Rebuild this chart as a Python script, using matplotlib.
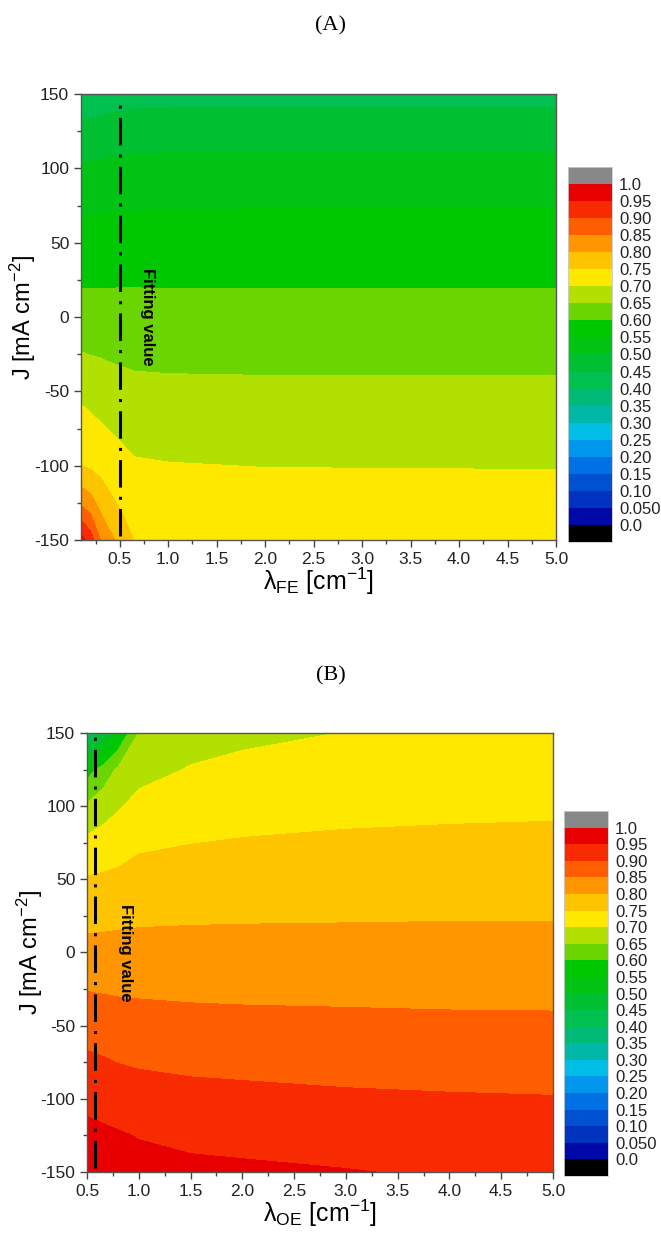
import numpy as np
import matplotlib
matplotlib.use('Agg')
import matplotlib.pyplot as plt
from matplotlib.colors import ListedColormap, BoundaryNorm

plt.rcParams['font.family'] = ['Liberation Sans', 'DejaVu Sans']
plt.rcParams['mathtext.fontset'] = 'custom'
plt.rcParams['mathtext.rm'] = 'Liberation Sans'
plt.rcParams['mathtext.it'] = 'Liberation Sans:italic'
plt.rcParams['axes.unicode_minus'] = False

# contour levels and colours (Origin-like rainbow, 0.0 -> 1.0 in 0.05 steps)
levels = [0.0, 0.05, 0.10, 0.15, 0.20, 0.25, 0.30, 0.35, 0.40, 0.45, 0.50,
          0.55, 0.60, 0.65, 0.70, 0.75, 0.80, 0.85, 0.90, 0.95, 1.0]
level_colors = ['#0008a8', '#0033c0', '#0050d2', '#0070e5', '#0096eb',
                '#00bee6', '#00b8a5', '#00ba78', '#00c050', '#00c031',
                '#00c314', '#00c800', '#6ad500', '#b2e000', '#ffe800',
                '#ffc400', '#ff9600', '#ff5e00', '#f82a00', '#e80000']
cbar_labels = ['0.0', '0.050', '0.10', '0.15', '0.20', '0.25', '0.30', '0.35',
               '0.40', '0.45', '0.50', '0.55', '0.60', '0.65', '0.70', '0.75',
               '0.80', '0.85', '0.90', '0.95', '1.0']

j_grid = [-150, -125, -100, -75, -50, -25, 0, 25, 50, 75, 100, 125, 150]

# (A) efficiency vs lambda_FE (columns) and J (rows)
lam_fe = [0.1, 0.2, 0.3, 0.4, 0.5, 0.65, 1.0, 2.0, 5.0]
eff_a = [
    [0.970, 0.925, 0.850, 0.813, 0.787, 0.749, 0.741, 0.738, 0.735],
    [0.839, 0.818, 0.784, 0.759, 0.744, 0.727, 0.721, 0.719, 0.717],
    [0.751, 0.742, 0.734, 0.726, 0.717, 0.705, 0.702, 0.699, 0.698],
    [0.721, 0.713, 0.705, 0.698, 0.691, 0.684, 0.681, 0.679, 0.678],
    [0.689, 0.682, 0.676, 0.671, 0.667, 0.662, 0.660, 0.659, 0.659],
    [0.652, 0.649, 0.647, 0.644, 0.642, 0.640, 0.639, 0.638, 0.638],
    [0.621, 0.621, 0.620, 0.619, 0.619, 0.618, 0.617, 0.617, 0.617],
    [0.593, 0.594, 0.594, 0.594, 0.595, 0.595, 0.595, 0.595, 0.595],
    [0.569, 0.569, 0.570, 0.570, 0.571, 0.571, 0.571, 0.572, 0.572],
    [0.541, 0.543, 0.544, 0.545, 0.545, 0.546, 0.547, 0.548, 0.548],
    [0.506, 0.508, 0.510, 0.512, 0.513, 0.515, 0.516, 0.517, 0.517],
    [0.461, 0.465, 0.468, 0.471, 0.473, 0.477, 0.478, 0.480, 0.480],
    [0.420, 0.422, 0.425, 0.427, 0.430, 0.432, 0.433, 0.433, 0.433],
]
fit_fe = 0.5

# (B) efficiency vs lambda_OE (columns) and J (rows)
lam_oe = [0.5, 0.65, 0.8, 1.0, 1.5, 2.0, 3.0, 4.0, 5.0]
eff_b = [
    [0.980, 0.975, 0.970, 0.965, 0.960, 0.958, 0.952, 0.945, 0.943],
    [0.962, 0.958, 0.954, 0.948, 0.940, 0.936, 0.931, 0.925, 0.923],
    [0.939, 0.934, 0.928, 0.921, 0.915, 0.912, 0.907, 0.904, 0.902],
    [0.910, 0.905, 0.899, 0.895, 0.890, 0.888, 0.884, 0.882, 0.881],
    [0.879, 0.875, 0.872, 0.869, 0.865, 0.863, 0.861, 0.859, 0.858],
    [0.848, 0.846, 0.844, 0.843, 0.841, 0.840, 0.839, 0.838, 0.838],
    [0.816, 0.816, 0.817, 0.817, 0.817, 0.817, 0.817, 0.817, 0.817],
    [0.785, 0.787, 0.789, 0.792, 0.794, 0.795, 0.796, 0.797, 0.797],
    [0.754, 0.757, 0.760, 0.768, 0.772, 0.774, 0.777, 0.778, 0.779],
    [0.712, 0.720, 0.729, 0.742, 0.749, 0.753, 0.757, 0.759, 0.760],
    [0.657, 0.678, 0.695, 0.714, 0.726, 0.732, 0.738, 0.741, 0.743],
    [0.579, 0.617, 0.658, 0.684, 0.703, 0.711, 0.719, 0.723, 0.726],
    [0.380, 0.460, 0.550, 0.652, 0.680, 0.690, 0.701, 0.705, 0.710],
]
fit_oe = 0.58


def make_cmap():
    cm = ListedColormap(level_colors)
    cm.set_over('#888888')
    cm.set_under('#000000')
    return cm


def draw_panel(ax, cax, xs, zs, fit_x, xlim, xlabel):
    cm = make_cmap()
    norm = BoundaryNorm(levels, cm.N)
    cs = ax.contourf(xs, j_grid, np.array(zs), levels=levels, cmap=cm,
                     norm=norm, extend='both')
    ax.plot([fit_x, fit_x], [-147, 148], color='black', lw=2.2,
            dashes=(9, 3, 1, 3), dash_capstyle='butt')
    ax.text(fit_x + 0.29, 0, 'Fitting value', rotation=-90, ha='center',
            va='center', fontsize=12, fontweight='bold')

    major = np.arange(0.5, 5.01, 0.5)
    minor = np.arange(0.25, 5.01, 0.25)
    minor = minor[minor >= xlim[0]]
    ax.set_xticks(major)
    ax.set_xticks(minor, minor=True)
    ax.set_xticklabels(['%.1f' % v for v in major])
    ax.set_yticks(np.arange(-150, 151, 50))
    ax.set_yticks(np.arange(-150, 151, 25), minor=True)
    ax.set_xlim(*xlim)
    ax.set_ylim(-150, 150)
    ax.tick_params(which='major', direction='out', length=5, width=1,
                   color='#444444', labelsize=12.5, labelcolor='#222222')
    ax.tick_params(which='minor', direction='out', length=3, width=1,
                   color='#444444')
    for sp in ax.spines.values():
        sp.set_color('#555555')
        sp.set_linewidth(1)

    ax.set_ylabel('J [mA cm$^{-2}$]', fontsize=17)
    ax.yaxis.set_label_coords(-0.09, 0.5)
    ax.set_xlabel(xlabel, fontsize=18)
    ax.xaxis.set_label_coords(0.5, -0.058)

    cb = fig.colorbar(cs, cax=cax, extendrect=True, extendfrac=0.05)
    cb.set_ticks(levels, labels=cbar_labels)
    cb.ax.tick_params(length=0, labelsize=12, pad=5, labelcolor='#222222')
    cb.outline.set_edgecolor('#cccccc')
    cb.outline.set_linewidth(0.6)


fig = plt.figure(figsize=(6.61, 12.36), dpi=100)
W, H = 661, 1236

ax_a = fig.add_axes([81 / W, 1 - 540 / H, 475 / W, 446 / H])
cax_a = fig.add_axes([568 / W, 1 - 542 / H, 44 / W, 375 / H])
ax_b = fig.add_axes([87 / W, 1 - 1172 / H, 466 / W, 439 / H])
cax_b = fig.add_axes([564 / W, 1 - 1176 / H, 44 / W, 365 / H])

draw_panel(ax_a, cax_a, lam_fe, eff_a, fit_fe, (0.1, 5.0),
           r'λ$_{\rm FE}$ [cm$^{-1}$]')
draw_panel(ax_b, cax_b, lam_oe, eff_b, fit_oe, (0.5, 5.0),
           r'λ$_{\rm OE}$ [cm$^{-1}$]')

fig.text(0.5, 1 - 26 / H, '(A)', ha='center', va='center', fontsize=16,
         family=['Liberation Serif', 'DejaVu Serif'])
fig.text(0.5, 1 - 676 / H, '(B)', ha='center', va='center', fontsize=16,
         family=['Liberation Serif', 'DejaVu Serif'])

fig.savefig('out.png', dpi=100)
